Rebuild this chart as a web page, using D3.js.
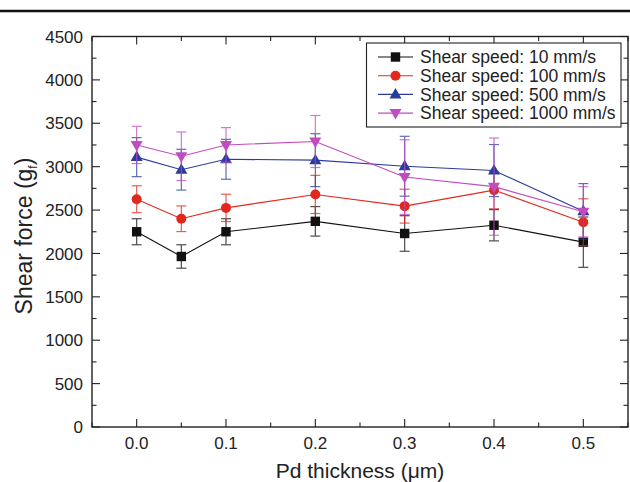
<!DOCTYPE html>
<html>
<head>
<meta charset="utf-8">
<script src="https://cdn.jsdelivr.net/npm/d3@7"></script>
<style>
  html, body { margin: 0; padding: 0; background: #fff; }
  svg { display: block; font-family: "Liberation Sans", Arial, sans-serif; }
</style>
</head>
<body>
<div id="chart"></div>
<script>
// Shear force vs Pd thickness for four shear speeds, with error bars.

const thickness = [0, 0.05, 0.1, 0.2, 0.3, 0.4, 0.5];
const speed10 = [2250, 1965, 2250, 2370, 2230, 2325, 2130];
const err10 = [150, 135, 150, 170, 205, 180, 290];
const speed100 = [2625, 2400, 2525, 2680, 2545, 2730, 2360];
const err100 = [155, 148, 157, 220, 195, 215, 270];
const speed500 = [3110, 2965, 3085, 3075, 3005, 2955, 2485];
const err500 = [225, 235, 230, 305, 345, 300, 320];
const speed1000 = [3250, 3120, 3250, 3290, 2880, 2770, 2480];
const err1000 = [215, 280, 200, 300, 430, 560, 290];

const seriesNames = [
  "Shear speed: 10 mm/s",
  "Shear speed: 100 mm/s",
  "Shear speed: 500 mm/s",
  "Shear speed: 1000 mm/s",
];
const xTicks = [0, 0.1, 0.2, 0.3, 0.4, 0.5];
const yTicks = [0, 500, 1000, 1500, 2000, 2500, 3000, 3500, 4000, 4500];

const series = [
  { name: seriesNames[0], vals: speed10, errs: err10, color: "#111111", shape: "square" },
  { name: seriesNames[1], vals: speed100, errs: err100, color: "#e2281c", shape: "circle" },
  { name: seriesNames[2], vals: speed500, errs: err500, color: "#2b3b9d", shape: "up" },
  { name: seriesNames[3], vals: speed1000, errs: err1000, color: "#c04cc0", shape: "down" },
];

const W = 630, H = 482;
const margin = { top: 36.5, right: 2, bottom: 55, left: 92 };

const x = d3.scaleLinear().domain([-0.05, 0.55]).range([margin.left, W - margin.right]);
const y = d3.scaleLinear().domain([0, 4500]).range([H - margin.bottom, margin.top]);

const svg = d3.select("#chart").append("svg").attr("width", W).attr("height", H);

// journal header rule
svg.append("line")
  .attr("x1", 0).attr("x2", W).attr("y1", 11).attr("y2", 11)
  .attr("stroke", "#111").attr("stroke-width", 2.4);

const x0 = margin.left, x1 = W - margin.right;
const y0 = H - margin.bottom, y1 = margin.top;

// ticks (inside, mirrored on all four sides)
const tickG = svg.append("g").attr("stroke", "#222").attr("stroke-width", 1.1);
const xMinor = d3.range(-0.05, 0.551, 0.05).map((d) => +d.toFixed(2));
xMinor.forEach((d) => {
  const major = xTicks.includes(d);
  const len = major ? 8 : 4.5;
  tickG.append("line").attr("x1", x(d)).attr("x2", x(d)).attr("y1", y0).attr("y2", y0 - len);
  tickG.append("line").attr("x1", x(d)).attr("x2", x(d)).attr("y1", y1).attr("y2", y1 + len);
});
d3.range(0, 4501, 250).forEach((d) => {
  const major = d % 500 === 0;
  const len = major ? 8 : 4.5;
  tickG.append("line").attr("x1", x0).attr("x2", x0 + len).attr("y1", y(d)).attr("y2", y(d));
  tickG.append("line").attr("x1", x1).attr("x2", x1 - len).attr("y1", y(d)).attr("y2", y(d));
});

// frame
svg.append("rect")
  .attr("x", x0).attr("y", y1).attr("width", x1 - x0).attr("height", y0 - y1)
  .attr("fill", "none").attr("stroke", "#222").attr("stroke-width", 1.4);

// tick labels
svg.append("g").selectAll("text").data(yTicks).join("text")
  .attr("x", 83).attr("y", (d) => y(d)).attr("dy", "0.36em")
  .attr("text-anchor", "end").attr("font-size", 17).attr("fill", "#222")
  .text((d) => d);
svg.append("g").selectAll("text").data(xTicks).join("text")
  .attr("x", (d) => x(d)).attr("y", 449)
  .attr("text-anchor", "middle").attr("font-size", 17).attr("fill", "#222")
  .text((d) => d.toFixed(1));

// axis titles
svg.append("text")
  .attr("x", (x0 + x1) / 2).attr("y", 478)
  .attr("text-anchor", "middle").attr("font-size", 21).attr("fill", "#222")
  .text("Pd thickness (\u03bcm)");
const yl = svg.append("text")
  .attr("transform", `translate(32, ${236}) rotate(-90)`)
  .attr("text-anchor", "middle").attr("font-size", 23).attr("fill", "#222");
yl.append("tspan").text("Shear force (g");
yl.append("tspan").attr("font-size", 12).attr("dy", 5).text("f");
yl.append("tspan").attr("dy", -5).text(")");

function drawMarker(g, shape, cx, cy, color) {
  if (shape === "square") {
    g.append("rect").attr("x", cx - 4.7).attr("y", cy - 4.7).attr("width", 9.4).attr("height", 9.4).attr("fill", color);
  } else if (shape === "circle") {
    g.append("circle").attr("cx", cx).attr("cy", cy).attr("r", 5).attr("fill", color);
  } else if (shape === "up") {
    g.append("path").attr("d", `M${cx},${cy - 6.5}L${cx + 6},${cy + 4}L${cx - 6},${cy + 4}Z`).attr("fill", color);
  } else {
    g.append("path").attr("d", `M${cx},${cy + 6.5}L${cx + 6},${cy - 4}L${cx - 6},${cy - 4}Z`).attr("fill", color);
  }
}

const line = d3.line().x((d) => x(d[0])).y((d) => y(d[1]));

series.forEach((s) => {
  const g = svg.append("g");
  const pts = thickness.map((t, i) => [t, s.vals[i], s.errs[i]]);
  // error bars
  const eg = g.append("g").attr("stroke", s.color).attr("stroke-width", 1.2).attr("opacity", 0.75);
  pts.forEach(([t, v, e]) => {
    const cx = x(t);
    eg.append("line").attr("x1", cx).attr("x2", cx).attr("y1", y(v - e)).attr("y2", y(v + e));
    eg.append("line").attr("x1", cx - 5).attr("x2", cx + 5).attr("y1", y(v - e)).attr("y2", y(v - e));
    eg.append("line").attr("x1", cx - 5).attr("x2", cx + 5).attr("y1", y(v + e)).attr("y2", y(v + e));
  });
  g.append("path").attr("d", line(pts)).attr("fill", "none").attr("stroke", s.color).attr("stroke-width", 1.1);
  pts.forEach(([t, v]) => drawMarker(g, s.shape, x(t), y(v), s.color));
});

// legend
const lg = svg.append("g");
lg.append("rect").attr("x", 366.5).attr("y", 43).attr("width", 254.5).attr("height", 84)
  .attr("fill", "#fff").attr("stroke", "#222").attr("stroke-width", 1.1);
series.forEach((s, i) => {
  const ly = 57 + i * 18.7;
  lg.append("line").attr("x1", 378).attr("x2", 413).attr("y1", ly).attr("y2", ly)
    .attr("stroke", s.color).attr("stroke-width", 1.1);
  drawMarker(lg, s.shape, 395.5, ly, s.color);
  lg.append("text").attr("x", 420).attr("y", ly).attr("dy", "0.36em")
    .attr("font-size", 17.5).attr("fill", "#222").text(s.name);
});
</script>
</body>
</html>
